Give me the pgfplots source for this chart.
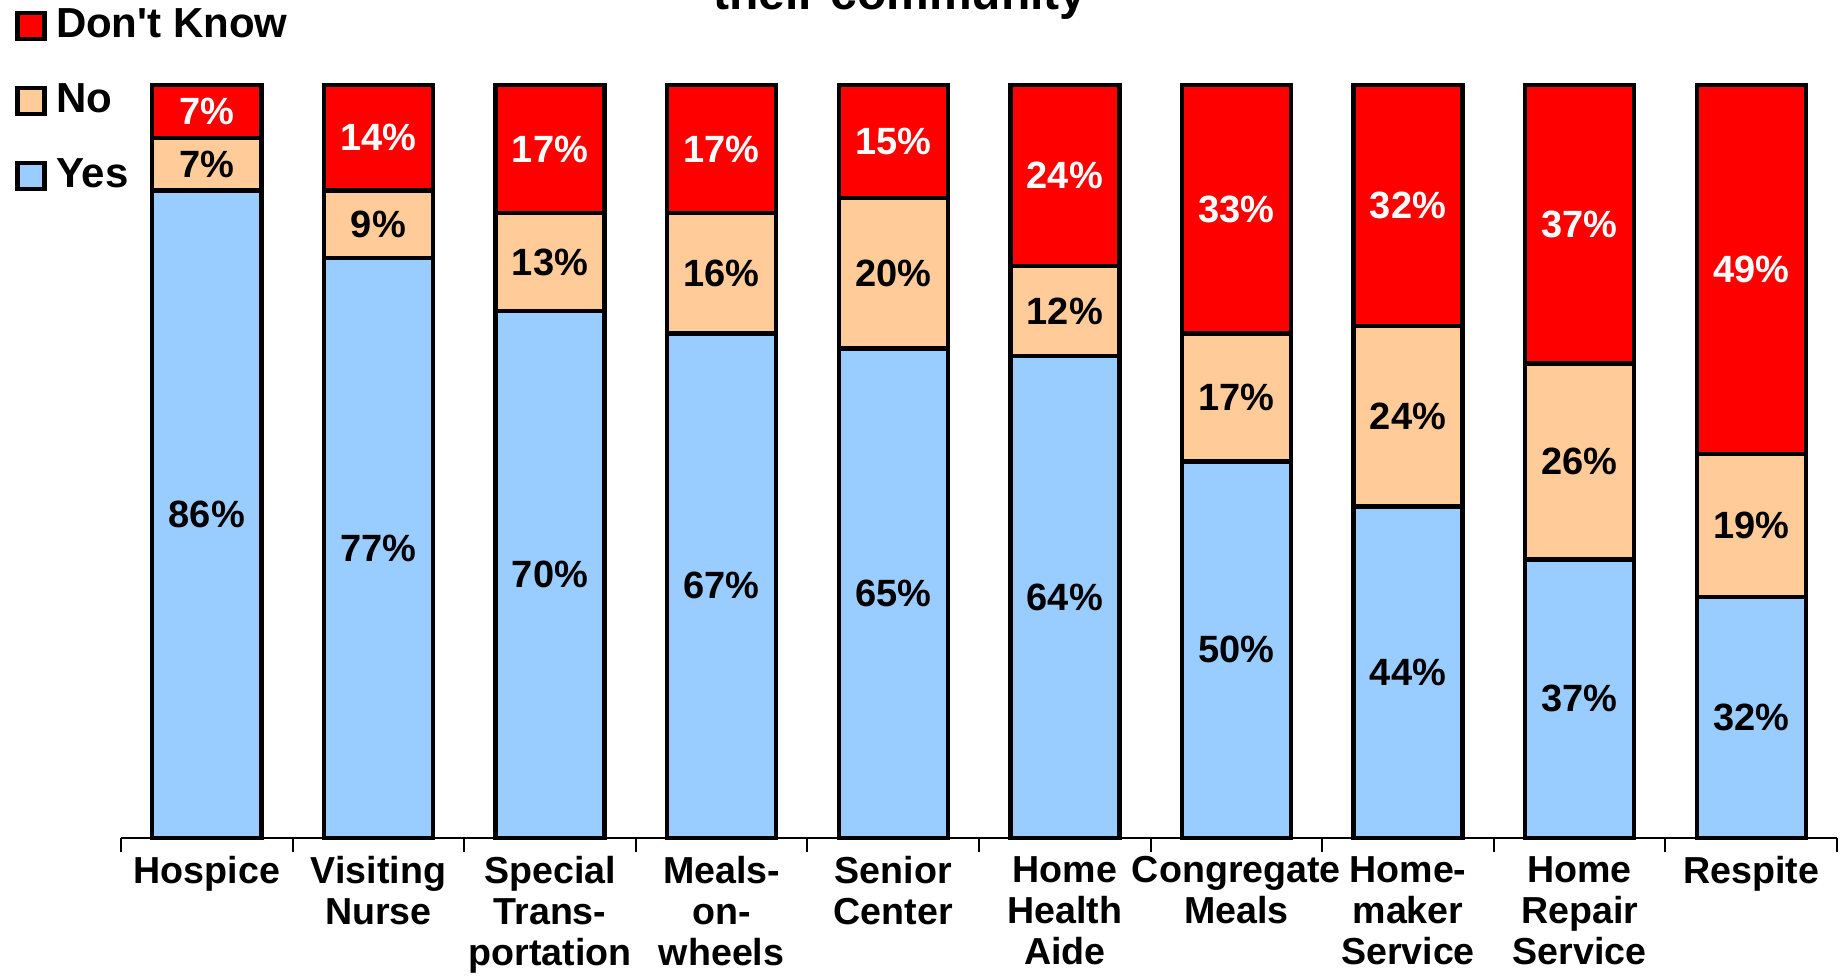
\documentclass[border=0pt]{standalone}
\usepackage{fontspec}
\setmainfont{Liberation Sans}
\usepackage{pgfplots}
\usepackage{pgfplotstable}
\pgfplotsset{compat=1.18}

\definecolor{dkred}{HTML}{FF0000}
\definecolor{peach}{HTML}{FFCC99}
\definecolor{lblue}{HTML}{99CCFF}

% share of respondents, per service: yes / no / don't know
\pgfplotstableread{
x yes no dk
1 86 7 7
2 77 9 14
3 70 13 17
4 67 16 17
5 65 20 15
6 64 12 24
7 50 17 33
8 44 24 32
9 37 26 37
10 32 19 49
}\data

\begin{document}
\begin{tikzpicture}
  \begin{axis}[
      at={(30.25pt,34.5pt)}, anchor=south west,
      scale only axis,
      width=429pt, height=188.25pt,
      xmin=0.5, xmax=10.5,
      ymin=0, ymax=100,
      clip=false,
      /pgf/number format/assume math mode=true,
      axis x line*=bottom,
      axis y line=none,
      axis line style={line width=0.5pt},
      bar width=27.25pt,
      bar shift=0pt,
      xtick={1,...,10},
      major tick length=0pt,
      minor xtick={0.5,1.5,...,10.5},
      minor tick length=3.5pt,
      tick align=outside,
      tick style={black, line width=0.5pt},
      xticklabels={Hospice, Visiting\\Nurse, Special\\Trans-\\portation, Meals-\\on-\\wheels,
        Senior\\Center, Home\\Health\\Aide, Congregate\\Meals, Home-\\maker\\Service,
        Home\\Repair\\Service, Respite},
      xticklabel style={align=center, font=\bfseries\fontsize{9.4}{10.3}\selectfont, yshift=-1pt},
      legend style={draw=none, fill=none, at={(-0.062,1.1076)}, anchor=north west,
        inner sep=0pt, row sep=8pt,
        font=\bfseries\fontsize{10.5}{12}\selectfont,
        nodes={inner sep=1pt}},
      legend cell align=left,
      legend image code/.code={\draw[#1, line width=1.1pt] (0pt,-3.25pt) rectangle (6.75pt,3.25pt);
        \path[draw=none, fill=none] (0pt,0pt) rectangle (8.6pt,0.1pt);},
      every node near coord/.append style={anchor=center, font=\bfseries\fontsize{9.5}{11}\selectfont},
    ]
    \addplot[ybar, fill=dkred, draw=black, line width=1.1pt]
      table[x=x, y expr=\thisrow{yes}+\thisrow{no}+\thisrow{dk}] {\data};
    \addplot[ybar, fill=peach, draw=black, line width=1.1pt]
      table[x=x, y expr=\thisrow{yes}+\thisrow{no}] {\data};
    \addplot[ybar, fill=lblue, draw=black, line width=1.1pt]
      table[x=x, y=yes] {\data};
    \legend{Don\textquotesingle t Know, No, Yes}

    \addplot[forget plot, draw=none, no marks, point meta=\thisrow{yes},
      nodes near coords={\pgfmathprintnumber{\pgfplotspointmeta}\%},
      every node near coord/.append style={text=black}]
      table[x=x, y expr=\thisrow{yes}/2] {\data};
    \addplot[forget plot, draw=none, no marks, point meta=\thisrow{no},
      nodes near coords={\pgfmathprintnumber{\pgfplotspointmeta}\%},
      every node near coord/.append style={text=black}]
      table[x=x, y expr=\thisrow{yes}+\thisrow{no}/2] {\data};
    \addplot[forget plot, draw=none, no marks, point meta=\thisrow{dk},
      nodes near coords={\pgfmathprintnumber{\pgfplotspointmeta}\%},
      every node near coord/.append style={text=white}]
      table[x=x, y expr=\thisrow{yes}+\thisrow{no}+\thisrow{dk}/2] {\data};
  \end{axis}
  \node[font=\bfseries\fontsize{12}{14}\selectfont, anchor=base] at (225pt,241.6pt) {their community};
  \pgfresetboundingbox
  \path[use as bounding box] (0,0) rectangle (460.75pt,244pt);
\end{tikzpicture}
\end{document}
